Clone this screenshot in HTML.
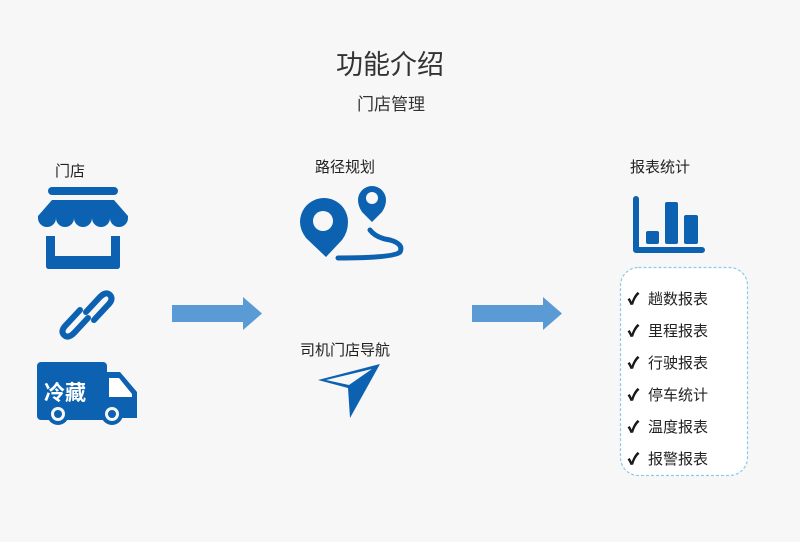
<!DOCTYPE html>
<html><head><meta charset="utf-8"><style>
html,body{margin:0;padding:0;background:#f7f7f7;}
svg{display:block;}
text{font-family:"Liberation Sans","Noto Sans CJK SC",sans-serif;}
</style></head><body>
<svg width="800" height="542" viewBox="0 0 800 542" xmlns="http://www.w3.org/2000/svg">
<rect width="800" height="542" fill="#f7f7f7"/>
<text x="390" y="74" font-size="27" fill="#333" text-anchor="middle">功能介绍</text>
<text x="391" y="110" font-size="17" fill="#333" text-anchor="middle">门店管理</text>

<text x="70" y="176" font-size="15" fill="#222" text-anchor="middle">门店</text>
<!-- store -->
<g fill="#0c62b0">
<rect x="48" y="187" width="70" height="8" rx="4"/>
<path d="M52 200 H114 L128 216 V218 A9 9 0 0 1 110 218 A9 9 0 0 1 92 218 A9 9 0 0 1 74 218 A9 9 0 0 1 56 218 A9 9 0 0 1 38 218 V216 Z"/>
<path d="M46 236 H55 V256 H111 V236 H120 V266 Q120 269 117 269 H49 Q46 269 46 266 Z"/>
</g>
<!-- chain -->
<g fill="none" stroke="#0c62b0" stroke-width="6" stroke-linecap="round">
<path d="M86 312 L100 297 Q106 291 110 295 Q114 299 108 305 L94 320"/>
<path d="M88 318 L74 333 Q68 339 64 335 Q60 331 66 325 L80 310"/>
</g>
<!-- truck -->
<g fill="#0c62b0">
<rect x="37" y="362" width="70" height="58" rx="4"/>
<path d="M107 372 H120 L137 392 V418 H107 Z"/>
<circle cx="58" cy="414" r="11"/><circle cx="112" cy="414" r="11"/>
</g>
<path d="M109 378 H119 L132 394 V397 H109 Z" fill="#fff"/>
<circle cx="58" cy="414" r="7" fill="#f7f7f7"/><circle cx="112" cy="414" r="7" fill="#f7f7f7"/>
<circle cx="58" cy="414" r="4" fill="#0c62b0"/><circle cx="112" cy="414" r="4" fill="#0c62b0"/>
<text x="44" y="400" font-size="21" font-weight="bold" fill="#fff">冷藏</text>

<!-- arrows -->
<path d="M172 305 H243 V297 L262 313.5 L243 330 V322 H172 Z" fill="#5b9bd5"/>
<path d="M472 305 H543 V297 L562 313.5 L543 330 V322 H472 Z" fill="#5b9bd5"/>

<text x="345" y="172" font-size="15" fill="#222" text-anchor="middle">路径规划</text>
<g fill="#0c62b0">
<path d="M326 257 L306 238 Q300 230 300 222 A24 24 0 0 1 348 222 Q348 232 342 240 Z"/>
<path d="M372 222 L362 212 Q358 206 358 200 A14 14 0 0 1 386 200 Q386 206 382 212 Z"/>
</g>
<circle cx="323" cy="221" r="10" fill="#f7f7f7"/>
<circle cx="372" cy="198" r="6" fill="#f7f7f7"/>
<path d="M370 230 Q376 238 390 240 Q404 244 400 252 Q394 258 338 258" fill="none" stroke="#0c62b0" stroke-width="5" stroke-linecap="round"/>

<text x="345" y="355" font-size="15" fill="#222" text-anchor="middle">司机门店导航</text>
<path d="M318 380 L380 364 L350 418 L348 388 Z" fill="#0c62b0"/>
<path d="M326 380 L372 369 L349 385 Z" fill="#f7f7f7"/>

<text x="660" y="172" font-size="15" fill="#222" text-anchor="middle">报表统计</text>
<g fill="#0c62b0">
<path d="M633 199 A3 3 0 0 1 639 199 V247 H702 A3 3 0 0 1 702 253 H636 A3 3 0 0 1 633 250 Z"/>
<rect x="646" y="231" width="13" height="13" rx="2"/>
<rect x="665" y="202" width="13" height="42" rx="2"/>
<rect x="684" y="215" width="14" height="29" rx="2"/>
</g>

<rect x="620.5" y="267.5" width="127" height="208" rx="18" fill="#fff" stroke="#8ccbe8" stroke-width="1.2" stroke-dasharray="3,2"/>
<g font-size="15" fill="#222">
<g font-weight="bold" stroke="#111" stroke-width="0.8">
<text x="628" y="304">✓</text><text x="628" y="336">✓</text><text x="628" y="368">✓</text>
<text x="628" y="400">✓</text><text x="628" y="432">✓</text><text x="628" y="464">✓</text>
</g>
<text x="648" y="304">趟数报表</text>
<text x="648" y="336">里程报表</text>
<text x="648" y="368">行驶报表</text>
<text x="648" y="400">停车统计</text>
<text x="648" y="432">温度报表</text>
<text x="648" y="464">报警报表</text>
</g>
</svg>
</body></html>
